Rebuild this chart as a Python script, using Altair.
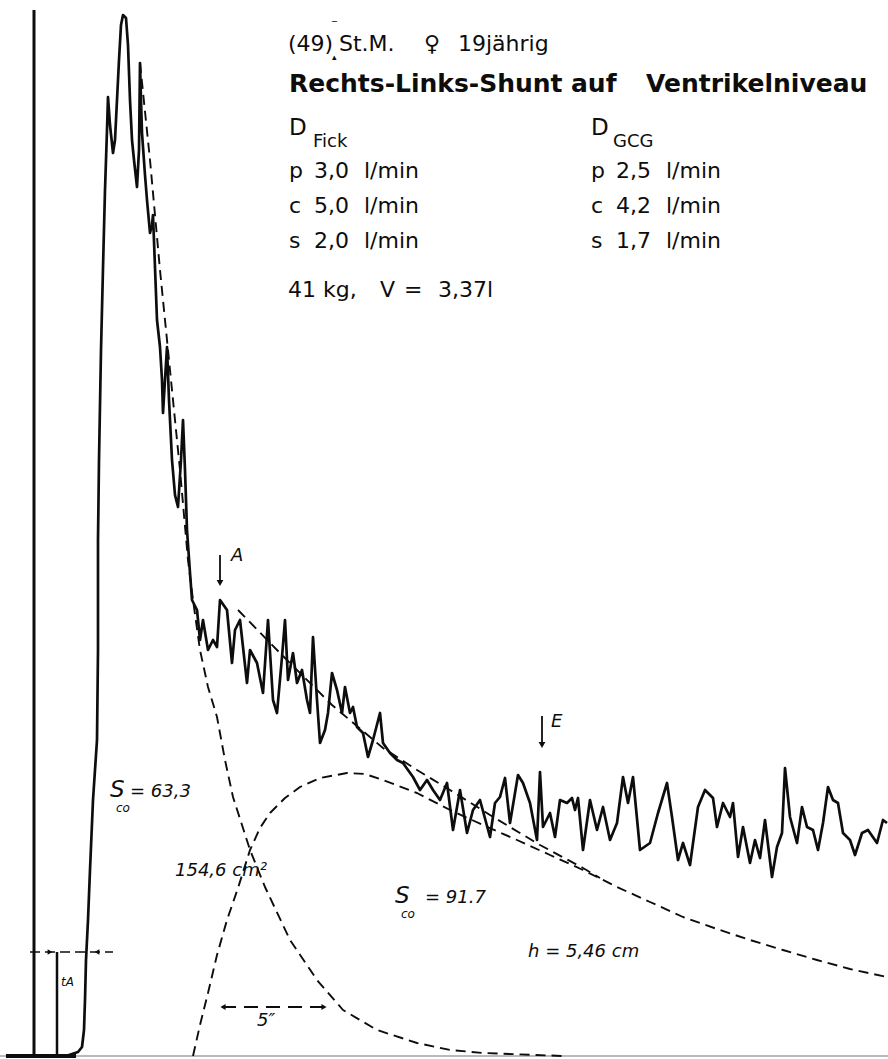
import altair as alt
import pandas as pd

# ---------------- data (recorder units: x = time axis, y = deflection, drawn top-down) -------------
trace_x = [66, 72, 78, 82, 84, 85, 86, 88, 90, 93, 97, 98, 98, 99, 101, 103, 105, 107, 108, 110,
           113, 115, 117, 119, 121, 123, 126, 128, 130, 132, 134, 137, 139, 140, 141, 142, 145, 147,
           150, 152, 153, 157, 160, 162, 163, 165, 167, 169, 172, 175, 178, 181, 183, 185, 187, 190,
           192, 197, 200, 203, 208, 213, 217, 220, 227, 232, 235, 240, 247, 250, 257, 263, 268, 273,
           277, 282, 285, 288, 293, 297, 302, 307, 310, 313, 317, 320, 325, 328, 332, 337, 342, 345,
           350, 353, 357, 363, 368, 373, 380, 383, 390, 397, 403, 413, 420, 427, 433,
           440, 447, 453, 460, 467, 473, 480, 490, 495, 500, 505, 510, 518, 523, 530, 537, 540, 543,
           550, 555, 560, 567, 572, 575, 578, 583, 590, 597, 603, 610, 617, 623, 628, 633, 640, 650,
           658, 667, 672, 678, 683, 690, 698, 705, 713, 717, 723, 730, 733, 738, 743, 750, 755, 760,
           765, 772, 777, 782, 785, 790, 797, 802, 807, 813, 818, 823, 828, 833, 838, 843, 850, 855,
           862, 868, 877, 883, 887]
trace_y = [1056, 1054, 1052, 1047, 1030, 1000, 960, 920, 870, 800, 740, 650, 540, 460, 350, 268, 190, 130, 97, 125,
           153, 140, 100, 60, 25, 15, 18, 45, 100, 140, 160, 187, 150, 63, 100, 133, 175, 200,
           233, 225, 215, 320, 347, 380, 413, 380, 347, 400, 460, 495, 507, 460, 420, 470, 530, 573,
           600, 610, 640, 620, 650, 640, 647, 600, 610, 663, 630, 620, 683, 650, 663, 693, 620, 700,
           713, 657, 620, 680, 653, 683, 670, 700, 713, 637, 700, 743, 730, 713, 673, 690, 713, 687,
           713, 707, 727, 733, 757, 740, 713, 743, 753, 760, 763, 777, 790, 780, 790,
           800, 783, 830, 790, 833, 810, 800, 837, 803, 797, 778, 823, 775, 783, 803, 840, 772, 827,
           813, 837, 800, 803, 798, 810, 798, 850, 800, 830, 807, 840, 823, 777, 803, 777, 850, 843,
           813, 783, 817, 860, 843, 865, 807, 790, 798, 827, 803, 817, 803, 857, 827, 863, 840, 858,
           820, 877, 847, 833, 768, 817, 843, 807, 827, 830, 850, 823, 787, 800, 803, 833, 840, 855,
           833, 830, 843, 820, 823]

# extrapolated primary (first-pass) curve
first_x = [140, 150, 160, 170, 180, 188, 193, 200, 208, 217, 225, 233, 242, 250, 265, 290, 317, 343, 377, 417, 450, 483, 563]
first_y = [63, 160, 270, 370, 470, 560, 600, 650, 687, 717, 760, 797, 825, 850, 887, 940, 980, 1010, 1030, 1043, 1050, 1053, 1056]

# shunt (early recirculation) curve
shunt_x = [193, 200, 208, 217, 227, 238, 250, 260, 270, 285, 300, 320, 347, 365, 383, 417, 450, 483, 517, 550, 583,
           617, 650, 683, 717, 750, 783, 817, 850, 887]
shunt_y = [1056, 1025, 993, 955, 920, 888, 850, 828, 813, 798, 787, 778, 773, 774, 780, 793, 810, 825, 840, 855, 870,
           887, 902, 917, 929, 940, 950, 960, 969, 977]

# fitted decay of the shunt portion
fit_x = [238, 277, 332, 383, 417, 450, 490, 540, 583, 600]
fit_y = [610, 650, 705, 748, 770, 790, 815, 845, 868, 878]

# header texts
head_txt = ["(49)", "St.M.", "♀", "19jährig"]
head_x = [288, 339, 424, 458]
title_txt = ["Rechts-Links-Shunt", "auf", "Ventrikelniveau"]
title_x = [289, 571, 646]
d_txt = ["D", "D"]
d_x = [289, 591]
dsub_txt = ["Fick", "GCG"]
dsub_x = [313, 613]
row_letter = ["p", "c", "s", "p", "c", "s"]
row_value = ["3,0", "5,0", "2,0", "2,5", "4,2", "1,7"]
row_unit = ["l/min"] * 6
row_col = [289, 289, 289, 591, 591, 591]
row_base = [178, 213, 248, 178, 213, 248]
kg_txt = ["41 kg,", "V", "=", "3,37l"]
kg_x = [288, 380, 404, 438]

# italic annotations
ann_txt = ["= 63,3", "154,6 cm²", "= 91.7", "h = 5,46 cm", "A", "E", "5\u2033"]
ann_x = [130, 175, 425, 528, 231, 551, 257]
ann_y = [797, 876, 903, 957, 561, 727, 1026]
s_x = [110, 395]
s_y = [797, 903]
co_x = [116, 401]
co_y = [812, 918]

FONT = "DejaVu Sans"
INK = "#0d0d0d"

xs = alt.Scale(domain=[0, 888], nice=False, zero=False)
ys = alt.Scale(domain=[1059, 0], nice=False, zero=False)


def enc_xy():
    return dict(x=alt.X("x:Q", scale=xs, axis=None), y=alt.Y("y:Q", scale=ys, axis=None))


def line(xv, yv, width, dash=None, color=INK):
    df = pd.DataFrame({"x": xv, "y": yv, "i": range(len(xv))})
    kw = dict(strokeWidth=width, color=color, strokeJoin="round")
    if dash:
        kw["strokeDash"] = dash
    return alt.Chart(df).mark_line(**kw).encode(order="i:Q", **enc_xy())


def texts(tv, xv, yv, size, weight="normal", style="normal", color=INK):
    df = pd.DataFrame({"t": tv, "x": xv, "y": yv})
    return alt.Chart(df).mark_text(
        align="left", baseline="alphabetic", font=FONT, fontSize=size,
        fontWeight=weight, fontStyle=style, color=color
    ).encode(text="t:N", **enc_xy())


def tri(xv, yv, shape, size=45):
    df = pd.DataFrame({"x": xv, "y": yv})
    return alt.Chart(df).mark_point(shape=shape, filled=True, size=size, color=INK, opacity=1).encode(**enc_xy())


layers = [
    # baseline
    line([0, 888], [1056, 1056], 1.2, color="#777"),
    line([6, 76], [1056, 1056], 4),
    # left vertical axis
    line([34, 34], [10, 1056], 3),
    # t_A marker
    line([57, 57], [952, 1056], 2.5),
    line([30, 113], [952, 952], 1.6, dash=[10, 5]),
    tri([50], [952], "triangle-right", 30),
    tri([97], [952], "triangle-left", 30),
    # dashed construction curves
    line(first_x, first_y, 1.9, dash=[10, 6]),
    line(shunt_x, shunt_y, 1.9, dash=[10, 6]),
    line(fit_x, fit_y, 1.9, dash=[10, 6]),
    # recorded trace
    line(trace_x, trace_y, 2.7),
    # A / E arrows
    line([220, 220], [555, 582], 1.8),
    tri([220], [583], "triangle-down", 45),
    line([542, 542], [716, 744], 1.8),
    tri([542], [745], "triangle-down", 45),
    # 5'' interval arrow
    line([222, 325], [1007, 1007], 1.8, dash=[14, 8]),
    tri([223], [1007], "triangle-left", 35),
    tri([324], [1007], "triangle-right", 35),
    # header
    texts(head_txt, head_x, [51] * 4, 22),
    texts(["‾"], [332], [29], 10),
    texts(["▴"], [332], [60], 9),
    texts(title_txt, title_x, [92] * 3, 25, weight="bold"),
    texts(d_txt, d_x, [135] * 2, 23),
    texts(dsub_txt, dsub_x, [147] * 2, 18),
    texts(row_letter, row_col, row_base, 22),
    texts(row_value, [c + 25 for c in row_col], row_base, 22),
    texts(row_unit, [c + 75 for c in row_col], row_base, 22),
    texts(kg_txt, kg_x, [297] * 4, 22),
    # italic annotations
    texts(ann_txt, ann_x, ann_y, 18, style="italic"),
    texts(["S", "S"], s_x, s_y, 23, style="italic"),
    texts(["co", "co"], co_x, co_y, 12, style="italic"),
    texts(["tA"], [61], [986], 12, style="italic"),
]

chart = alt.layer(*layers).properties(
    width=888, height=1059, padding=0, background="white",
    autosize=alt.AutoSizeParams(type="none")
).configure_view(stroke=None)

chart.save("out.html", embed_options={"renderer": "svg", "actions": False})
